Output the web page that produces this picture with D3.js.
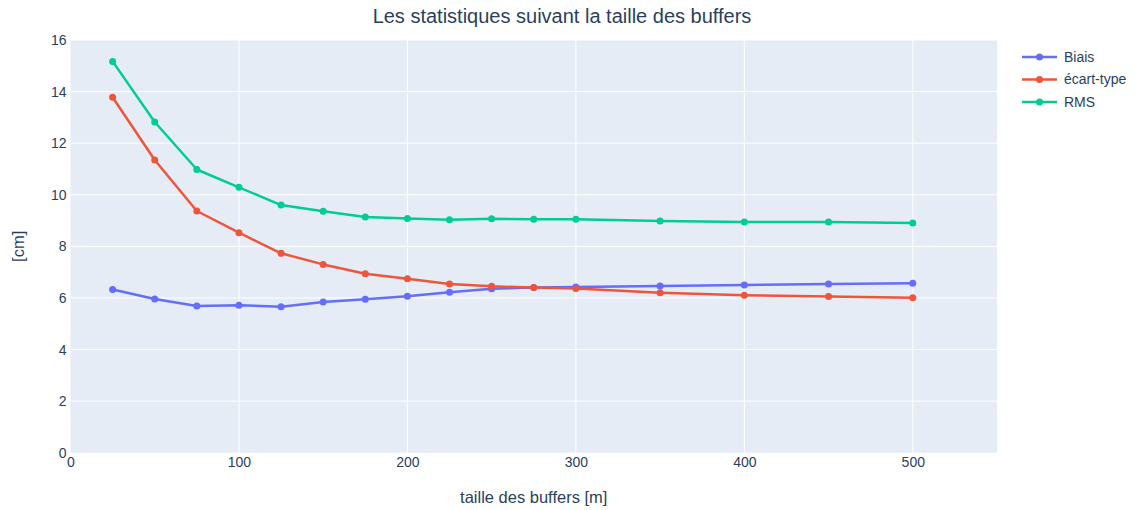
<!DOCTYPE html>
<html>
<head>
<meta charset="utf-8">
<script src="https://cdn.jsdelivr.net/npm/d3@7"></script>
<style>
  body { margin: 0; background: #fff; }
  text { font-family: "Liberation Sans", Arial, sans-serif; fill: #2a3f5f; }
</style>
</head>
<body>
<svg width="1135" height="510"></svg>
<script>
// data
var buffers = [25, 50, 75, 100, 125, 150, 175, 200, 225, 250, 275, 300, 350, 400, 450, 500];
var biais = [6.33, 5.96, 5.69, 5.72, 5.66, 5.84, 5.95, 6.07, 6.22, 6.36, 6.40, 6.42, 6.46, 6.50, 6.54, 6.57];
var ecartType = [13.78, 11.35, 9.37, 8.53, 7.73, 7.30, 6.94, 6.74, 6.54, 6.45, 6.40, 6.37, 6.20, 6.10, 6.06, 6.01];
var rms = [15.17, 12.82, 10.98, 10.29, 9.60, 9.36, 9.14, 9.08, 9.03, 9.07, 9.05, 9.05, 8.98, 8.94, 8.94, 8.91];
var seriesNames = ["Biais", "écart-type", "RMS"];
var xTicks = [0, 100, 200, 300, 400, 500];
var yTicks = [0, 2, 4, 6, 8, 10, 12, 14, 16];

var colors = ["#636efa", "#EF553B", "#00cc96"];
var series = [biais, ecartType, rms];

var svg = d3.select("svg");
var plotLeft = 70.5, plotRight = 997, plotTop = 40, plotBottom = 452.7;

var x = d3.scaleLinear().domain([0, 550]).range([plotLeft, plotRight]);
var y = d3.scaleLinear().domain([0, 16]).range([plotBottom, plotTop]);

// plot background
svg.append("rect")
    .attr("x", plotLeft).attr("y", plotTop)
    .attr("width", plotRight - plotLeft).attr("height", plotBottom - plotTop)
    .attr("fill", "#E5ECF6");

// grid
svg.append("g").selectAll("line").data(xTicks.slice(1)).enter().append("line")
    .attr("x1", d => x(d)).attr("x2", d => x(d))
    .attr("y1", plotTop).attr("y2", plotBottom)
    .attr("stroke", "#fff").attr("stroke-width", 1);
svg.append("g").selectAll("line").data(yTicks.slice(1)).enter().append("line")
    .attr("y1", d => y(d)).attr("y2", d => y(d))
    .attr("x1", plotLeft).attr("x2", plotRight)
    .attr("stroke", "#fff").attr("stroke-width", 1);

// axes (plotly look: no domain line, no ticks)
var xAxis = svg.append("g")
    .attr("transform", "translate(0," + plotBottom + ")")
    .call(d3.axisBottom(x).tickValues(xTicks).tickSize(0).tickPadding(4));
var yAxis = svg.append("g")
    .attr("transform", "translate(" + plotLeft + ",0)")
    .call(d3.axisLeft(y).tickValues(yTicks).tickSize(0).tickPadding(4));
[xAxis, yAxis].forEach(function (a) {
    a.select(".domain").remove();
    a.selectAll("text").attr("font-size", 14)
        .style("font-family", '"Liberation Sans", Arial, sans-serif').attr("fill", "#2a3f5f");
});
yAxis.selectAll("text").attr("dy", "0.32em");

// lines + markers
var line = d3.line()
    .x((d, i) => x(buffers[i]))
    .y(d => y(d));

series.forEach(function (s, k) {
    var g = svg.append("g");
    g.append("path")
        .datum(s)
        .attr("d", line)
        .attr("fill", "none")
        .attr("stroke", colors[k])
        .attr("stroke-width", 2.5)
        .attr("stroke-linejoin", "round");
    g.selectAll("circle").data(s).enter().append("circle")
        .attr("cx", (d, i) => x(buffers[i]))
        .attr("cy", d => y(d))
        .attr("r", 3.5)
        .attr("fill", colors[k]);
});

// title
svg.append("text")
    .attr("x", 562).attr("y", 23)
    .attr("text-anchor", "middle")
    .attr("font-size", 20)
    .text("Les statistiques suivant la taille des buffers");

// axis titles
svg.append("text")
    .attr("x", (plotLeft + plotRight) / 2).attr("y", 503)
    .attr("text-anchor", "middle")
    .attr("font-size", 16.5)
    .text("taille des buffers [m]");
svg.append("text")
    .attr("transform", "translate(24," + ((plotTop + plotBottom) / 2) + ") rotate(-90)")
    .attr("text-anchor", "middle")
    .attr("font-size", 16.5)
    .text("[cm]");

// legend
var legend = svg.append("g").attr("transform", "translate(1022,57)");
seriesNames.forEach(function (n, k) {
    var row = legend.append("g").attr("transform", "translate(0," + (k * 22.5) + ")");
    row.append("line").attr("x1", 0).attr("x2", 35).attr("y1", 0).attr("y2", 0)
        .attr("stroke", colors[k]).attr("stroke-width", 2.5);
    row.append("circle").attr("cx", 17.5).attr("cy", 0).attr("r", 3.5).attr("fill", colors[k]);
    row.append("text").attr("x", 42).attr("y", 0).attr("dy", "0.35em")
        .attr("font-size", 14).text(n);
});
</script>
</body>
</html>
